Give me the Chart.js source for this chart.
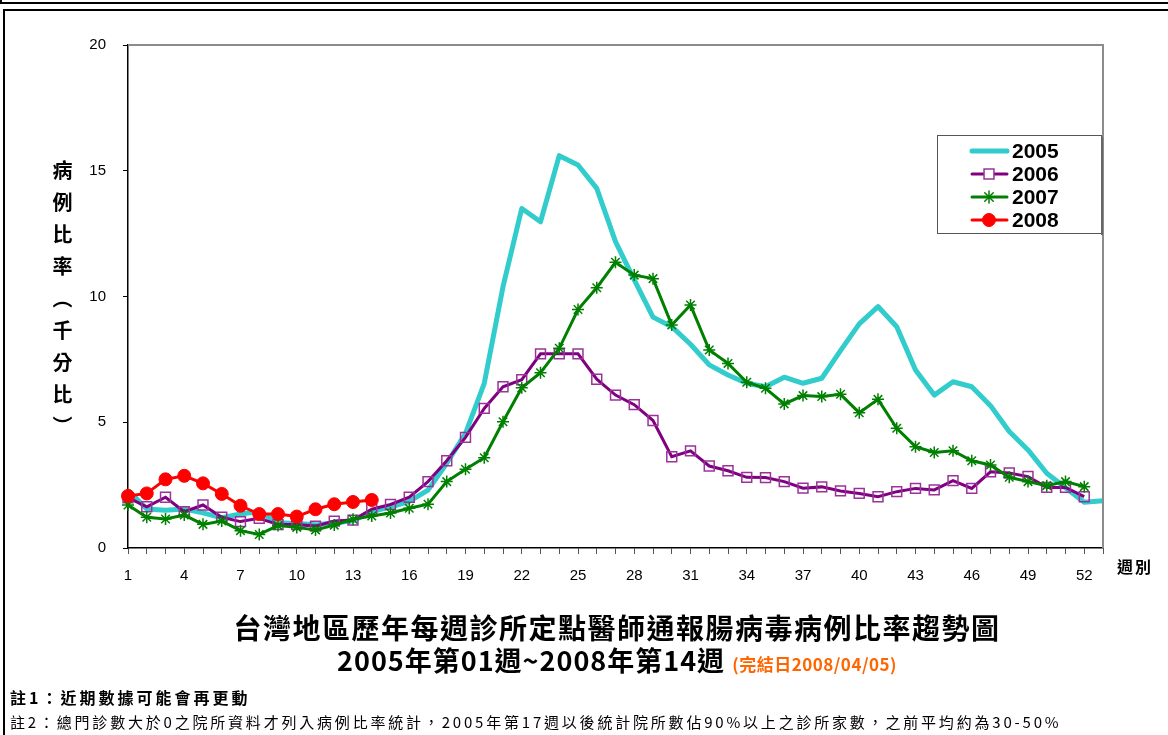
<!DOCTYPE html>
<html>
<head>
<meta charset="utf-8">
<script src="https://cdn.jsdelivr.net/npm/chart.js@4"></script>
<style>
  body { margin: 0; width: 1168px; height: 735px; overflow: hidden; background: #fff; position: relative; font-family: Arial, "Liberation Sans", sans-serif; }
  #topline { position: absolute; left: 0; top: -20px; width: 1300px; height: 20px; border: 2px solid #000; }
  #frame { position: absolute; left: 3px; top: 9px; width: 1300px; height: 900px; border: 2px solid #000; }
  #c { position: absolute; left: 0; top: 0; }
  #ytitle { position: absolute; left: 48px; top: 160px; writing-mode: vertical-rl; font: bold 20px "Noto Sans CJK TC"; letter-spacing: 12px; color: #000; }
  #xtitle { position: absolute; left: 1117px; top: 554px; font: bold 16px "Noto Sans CJK TC"; letter-spacing: 2px; }
  #title1 { position: absolute; left: 0; top: 612px; width: 1234px; text-align: center; font: bold 28px/30px "Noto Sans CJK TC"; letter-spacing: 1.5px; }
  #title2 { position: absolute; left: 0; top: 644px; width: 1234px; text-align: center; font: bold 27px/32px "Noto Sans CJK TC"; letter-spacing: 1px; }
  #title2 span { color: #ff6600; font-size: 17px; letter-spacing: 0.5px; }
  #note1 { position: absolute; left: 10px; top: 687px; font: bold 16px/20px "Noto Sans CJK TC"; letter-spacing: 3px; }
  #note2 { position: absolute; left: 10px; top: 712px; font: 15px/20px "Noto Sans CJK TC"; letter-spacing: 2.8px; }
</style>
</head>
<body>
<div id="topline"></div>
<div id="frame"></div>
<canvas id="c" width="1168" height="735"></canvas>
<div id="ytitle">病例比率（千分比）</div>
<div id="xtitle">週別</div>
<div id="title1">台灣地區歷年每週診所定點醫師通報腸病毒病例比率趨勢圖</div>
<div id="title2">2005年第01週~2008年第14週 <span>(完結日2008/04/05)</span></div>
<div id="note1">註1：近期數據可能會再更動</div>
<div id="note2">註2：總門診數大於0之院所資料才列入病例比率統計，2005年第17週以後統計院所數佔90%以上之診所家數，之前平均約為30-50%</div>
<script>
// --- DATA (千分比, 週別 1..53) ---
const weeks = Array.from({ length: 53 }, (_, i) => String(i + 1));
const shownWeeks = ['1', '4', '7', '10', '13', '16', '19', '22', '25', '28', '31', '34', '37', '40', '43', '46', '49', '52'];
const yTicks = [0, 5, 10, 15, 20];

const y2005 = [2.3, 1.55, 1.5, 1.55, 1.4, 1.2, 1.35, 1.45, 1.0, 0.97, 0.92, 1.0, 1.08, 1.45, 1.64, 1.85, 2.3, 3.37, 4.56, 6.55,
    10.39, 13.5, 12.97, 15.6, 15.23, 14.3, 12.18, 10.66, 9.18, 8.8, 8.1, 7.28, 6.88, 6.55, 6.41, 6.79, 6.55, 6.75, 7.85, 8.91,
    9.6, 8.8, 7.08, 6.08, 6.61, 6.41, 5.66, 4.63, 3.9, 2.97, 2.4, 1.82, 1.88];
const y2006 = [2.0, 1.64, 2.02, 1.44, 1.71, 1.22, 1.05, 1.18, 0.93, 0.93, 0.87, 1.07, 1.11, 1.54, 1.73, 2.02, 2.64, 3.47, 4.4, 5.55,
    6.41, 6.69, 7.72, 7.72, 7.72, 6.71, 6.08, 5.7, 5.07, 3.63, 3.86, 3.26, 3.07, 2.81, 2.8, 2.64, 2.38, 2.43, 2.27, 2.17,
    2.04, 2.24, 2.37, 2.31, 2.68, 2.37, 3.03, 2.98, 2.84, 2.41, 2.41, 2.04];
const y2007 = [1.71, 1.22, 1.15, 1.31, 0.94, 1.07, 0.69, 0.54, 0.89, 0.82, 0.72, 0.91, 1.14, 1.27, 1.39, 1.58, 1.74, 2.64, 3.13, 3.59,
    5.02, 6.37, 6.97, 7.94, 9.48, 10.35, 11.36, 10.85, 10.71, 8.87, 9.66, 7.87, 7.34, 6.59, 6.35, 5.73, 6.06, 6.02, 6.11, 5.38,
    5.91, 4.76, 4.03, 3.8, 3.87, 3.47, 3.3, 2.81, 2.64, 2.48, 2.64, 2.44];
const y2008 = [2.07, 2.17, 2.73, 2.87, 2.57, 2.15, 1.68, 1.35, 1.35, 1.25, 1.54, 1.74, 1.83, 1.91];

// --- 圖框 / 圖例 ---
const plotFrame = {
    id: 'plotFrame',
    afterDatasetsDraw(chart) {
        const { ctx, chartArea: a } = chart;
        ctx.save();
        ctx.strokeStyle = '#8c8c8c';
        ctx.lineWidth = 2;
        ctx.beginPath();
        ctx.moveTo(a.left, a.top);
        ctx.lineTo(a.right, a.top);
        ctx.lineTo(a.right, a.bottom);
        ctx.stroke();
        ctx.restore();
    }
};

const boxLegend = {
    id: 'boxLegend',
    afterDraw(chart) {
        const ctx = chart.ctx;
        const x = 937, y = 135, w = 164, h = 98;
        ctx.save();
        ctx.fillStyle = '#fff';
        ctx.fillRect(x, y, w, h);
        ctx.strokeStyle = '#555';
        ctx.lineWidth = 1;
        ctx.strokeRect(x + 0.5, y + 0.5, w, h);
        ctx.fillStyle = '#666';
        ctx.fillRect(x + w, y + 2, 2, h);
        chart.data.datasets.forEach((ds, i) => {
            const ry = y + 16 + i * 23;
            ctx.strokeStyle = ds.borderColor;
            ctx.lineWidth = ds.borderWidth;
            ctx.lineCap = 'round';
            ctx.beginPath();
            ctx.moveTo(972, ry);
            ctx.lineTo(1007, ry);
            ctx.stroke();
            if (ds.pointRadius > 0) {
                ctx.fillStyle = ds.pointStyle === 'rect' ? '#fff' : ds.pointBackgroundColor;
                ctx.strokeStyle = ds.pointBorderColor;
                ctx.lineWidth = ds.pointBorderWidth;
                Chart.helpers.drawPoint(ctx, { pointStyle: ds.pointStyle, radius: ds.pointRadius, borderWidth: ds.pointBorderWidth, rotation: 0 }, 989, ry);
            }
            ctx.fillStyle = '#000';
            ctx.font = 'bold 21px Arial, "Liberation Sans"';
            ctx.textBaseline = 'middle';
            ctx.fillText(ds.label, 1012, ry + 1);
        });
        ctx.restore();
    }
};

new Chart(document.getElementById('c'), {
    type: 'line',
    data: {
        labels: weeks,
        datasets: [
            { label: '2005', data: y2005, borderColor: '#33cccc', borderWidth: 5, pointRadius: 0, order: 4, borderJoinStyle: 'round' },
            { label: '2006', data: y2006, borderColor: '#800080', borderWidth: 3, pointStyle: 'rect', pointRadius: 7,
              pointBackgroundColor: 'rgba(0,0,0,0)', pointBorderColor: '#993399', pointBorderWidth: 1.5, order: 3 },
            { label: '2007', data: y2007, borderColor: '#008000', borderWidth: 3, pointStyle: 'star', pointRadius: 6,
              pointBackgroundColor: '#008000', pointBorderColor: '#008000', pointBorderWidth: 1.5, order: 2 },
            { label: '2008', data: y2008, borderColor: '#ff0000', borderWidth: 3, pointStyle: 'circle', pointRadius: 6.5,
              pointBackgroundColor: '#ff0000', pointBorderColor: '#ff0000', pointBorderWidth: 1, order: 1 }
        ]
    },
    options: {
        responsive: false,
        animation: false,
        devicePixelRatio: 1,
        layout: { padding: { top: 45, right: 65, left: 0, bottom: 0 } },
        plugins: { legend: { display: false }, tooltip: { enabled: false } },
        elements: { line: { tension: 0 } },
        scales: {
            x: {
                offset: false,
                afterFit(s) { s.height = 187; },
                grid: { drawOnChartArea: false, tickLength: 6, color: '#555', lineWidth: 1 },
                border: { color: '#000', width: 1.5 },
                ticks: {
                    autoSkip: false, maxRotation: 0, padding: 13, color: '#000',
                    font: { family: 'Arial, "Liberation Sans"', size: 15 },
                    callback(v) { const l = weeks[v]; return shownWeeks.includes(l) ? l : ''; }
                }
            },
            y: {
                min: 0, max: 20,
                afterFit(s) { s.width = 128; },
                afterBuildTicks(s) { s.ticks = yTicks.map(v => ({ value: v })); },
                grid: { drawOnChartArea: false, tickLength: 5, color: '#000' },
                border: { color: '#000', width: 1.5 },
                ticks: { padding: 17, color: '#000', font: { family: 'Arial, "Liberation Sans"', size: 15 } }
            }
        }
    },
    plugins: [plotFrame, boxLegend]
});
</script>
</body>
</html>
